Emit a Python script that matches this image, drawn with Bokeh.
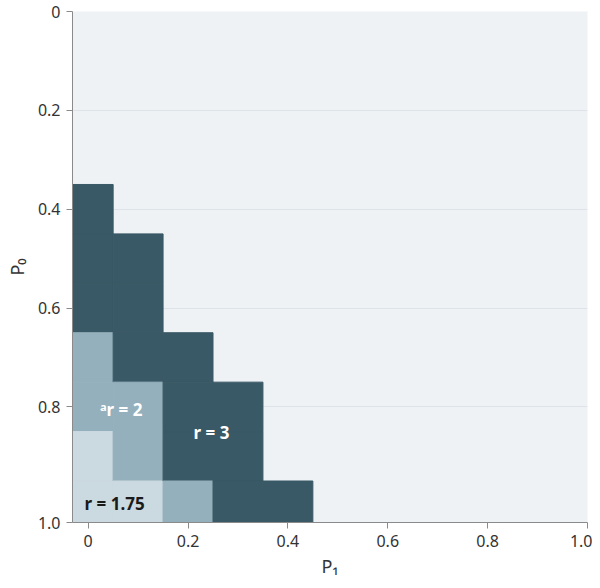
from bokeh.plotting import figure
from bokeh.models import Range1d, FixedTicker, Label, ColumnDataSource
from bokeh.embed import file_html
from bokeh.resources import INLINE

# Data: grid of cells (P1, P0) with the chosen r value
p1_vals = [0.0, 0.0, 0.0, 0.0, 0.0, 0.0, 0.0,
           0.1, 0.1, 0.1, 0.1, 0.1, 0.1,
           0.2, 0.2, 0.2, 0.2,
           0.3, 0.3, 0.3,
           0.4]
p0_vals = [0.4, 0.5, 0.6, 0.7, 0.8, 0.9, 1.0,
           0.5, 0.6, 0.7, 0.8, 0.9, 1.0,
           0.7, 0.8, 0.9, 1.0,
           0.8, 0.9, 1.0,
           1.0]
r_vals = ["3", "3", "3", "2", "2", "1.75", "1.75",
          "3", "3", "3", "2", "2", "1.75",
          "3", "3", "3", "2",
          "3", "3", "3",
          "3"]
r_colors = {"3": "#3a5966", "2": "#94b0bc", "1.75": "#cbd9e0"}

x_ticks = [0, 0.2, 0.4, 0.6, 0.8, 1.0]
x_tick_labels = ["0", "0.2", "0.4", "0.6", "0.8", "1.0"]
y_ticks = [0, 0.2, 0.4, 0.6, 0.8, 1.034]
y_tick_labels = ["0", "0.2", "0.4", "0.6", "0.8", "1.0"]

region_labels = ["\u1d43r = 2", "r = 3", "r = 1.75"]
region_x = [0.066, 0.247, 0.053]
region_y = [0.805, 0.851, 0.996]
region_color = ["white", "white", "#1a1a1a"]

FONT = "Noto Sans"

p = figure(width=592, height=580, output_backend="svg", toolbar_location=None,
           x_range=Range1d(-0.0314, 1.0), y_range=Range1d(1.034, 0.0),
           min_border_left=72, min_border_right=5, min_border_top=11,
           min_border_bottom=58)
p.background_fill_color = "#eef2f5"
p.border_fill_color = "white"
p.outline_line_color = None

cols = [r_colors[r] for r in r_vals]
src = ColumnDataSource(dict(x=p1_vals, y=p0_vals, c=cols))
p.rect(x="x", y="y", width=0.1, height=0.1, source=src,
       fill_color="c", line_color="c", line_width=1)

for t, x, y, c in zip(region_labels, region_x, region_y, region_color):
    p.add_layout(Label(x=x, y=y, text=t, text_color=c, text_font=FONT,
                       text_font_size="17px", text_font_style="bold",
                       text_align="center", text_baseline="middle"))

p.xaxis.ticker = FixedTicker(ticks=x_ticks)
p.xaxis.major_label_overrides = {t: l for t, l in zip(x_ticks, x_tick_labels)}
p.yaxis.ticker = FixedTicker(ticks=y_ticks)
p.yaxis.major_label_overrides = {t: l for t, l in zip(y_ticks, y_tick_labels)}

p.xaxis.axis_label = "P\u2081"
p.yaxis.axis_label = "P\u2080"
for ax in (p.xaxis, p.yaxis):
    ax.axis_line_color = "#8a8a8a"
    ax.major_tick_line_color = "#8a8a8a"
    ax.minor_tick_line_color = None
    ax.major_tick_out = 6
    ax.major_tick_in = 0
    ax.major_label_text_font = FONT
    ax.major_label_text_font_size = "16px"
    ax.major_label_text_color = "#333333"
    ax.axis_label_text_font = FONT
    ax.axis_label_text_font_size = "18px"
    ax.axis_label_text_font_style = "normal"
    ax.axis_label_text_color = "#333333"
p.xaxis.major_label_standoff = 6
p.xaxis.axis_label_standoff = 4
p.yaxis.major_label_standoff = 6
p.yaxis.axis_label_standoff = 6

p.xgrid.grid_line_color = None
p.ygrid.grid_line_color = "#dde3e8"
p.ygrid.grid_line_width = 1

open("out.html", "w").write(file_html(p, INLINE))
